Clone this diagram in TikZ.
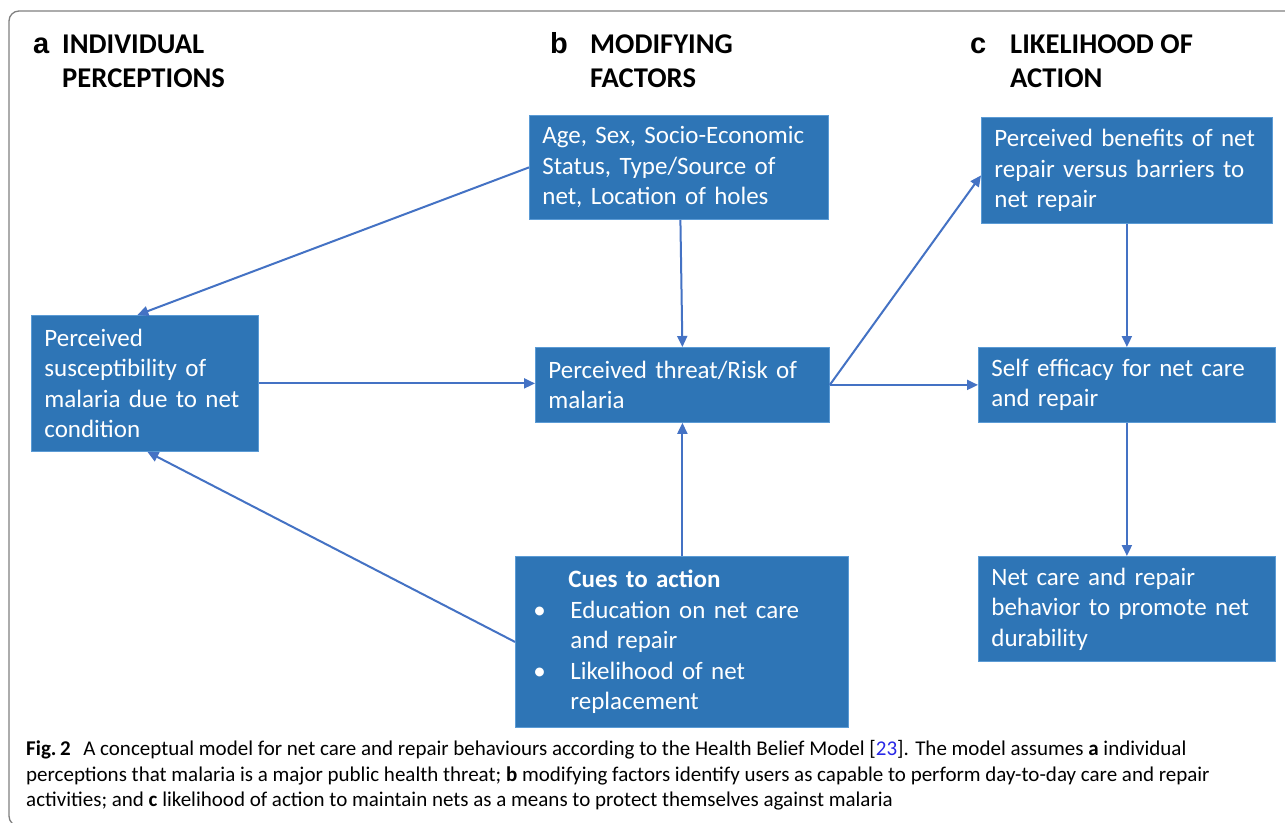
\documentclass[tikz,border=0pt]{standalone}
\usepackage{fontspec}
\setmainfont{Carlito}
\newfontfamily\labelfont{Liberation Sans}
\usetikzlibrary{arrows.meta}
\definecolor{boxblue}{HTML}{2E75B6}
\definecolor{boxedge}{HTML}{5B9BD5}
\definecolor{arrowblue}{HTML}{4472C4}
\definecolor{framegray}{HTML}{808080}
\definecolor{linkblue}{RGB}{40,40,230}
\begin{document}
\begin{tikzpicture}[x=1pt,y=-1pt,
  box/.style={draw=boxedge, line width=0.8pt, fill=boxblue, text=white,
    font=\fontsize{25}{30.5}\selectfont, align=left, inner xsep=13pt, inner ysep=0pt,
    anchor=north west},
  conn/.style={draw=arrowblue, line width=2pt, -{Triangle[length=11pt,width=10pt]}},
  hdr/.style={anchor=base west, font=\fontsize{28.6}{34}\selectfont\bfseries, inner sep=0pt},
  tag/.style={anchor=base west, font=\labelfont\bfseries\fontsize{29}{34}\selectfont, inner sep=0pt},
  captxt/.style={anchor=base west, font=\fontsize{21}{26}\selectfont, inner sep=0pt}
]
\useasboundingbox (0,0) rectangle (1285,822);
\fill[white] (0,0) rectangle (1285,822);
\draw[framegray, line width=1.3pt, rounded corners=10pt] (9,11) rectangle (1300,826);

% headers
\node[tag] (la) at (33,53) {a};
\node[hdr] (ha1) at (62,53) {INDIVIDUAL};
\node[hdr] (ha2) at (62,87) {PERCEPTIONS};
\node[tag] (lb) at (550,53) {b};
\node[hdr] (hb1) at (590,53) {MODIFYING};
\node[hdr] (hb2) at (590,87) {FACTORS};
\node[tag] (lc) at (970,53) {c};
\node[hdr] (hc1) at (1010,53) {LIKELIHOOD OF};
\node[hdr] (hc2) at (1010,87) {ACTION};

% boxes
\node[box, minimum width=227pt, minimum height=136pt, text width=201pt] (susc) at (31,315)
  {Perceived\\susceptibility of\\malaria due to net\\condition};
\node[box, minimum width=299pt, minimum height=104pt, text width=273pt] (age) at (529,115)
  {Age, Sex, Socio-Economic\\Status, Type/Source of\\net, Location of holes};
\node[box, minimum width=294pt, minimum height=75pt, text width=268pt] (threat) at (535,347)
  {Perceived threat/Risk of\\malaria};
\node[box, minimum width=333pt, minimum height=171pt, text width=297pt, inner xsep=18pt] (cues) at (515,556)
  {\hspace*{35pt}\textbf{Cues to action}\\
   \makebox[37pt][l]{•}Education on net care\\
   \hspace*{37pt}and repair\\
   \makebox[37pt][l]{•}Likelihood of net\\
   \hspace*{37pt}replacement};
\node[box, minimum width=291pt, minimum height=106pt, text width=265pt] (benef) at (981,117)
  {Perceived benefits of net\\repair versus barriers to\\net repair};
\node[box, minimum width=297pt, minimum height=75pt, text width=271pt] (selfeff) at (978,347)
  {Self efficacy for net care\\and repair};
\node[box, minimum width=297pt, minimum height=105pt, text width=271pt] (netcare) at (978,556)
  {Net care and repair\\behavior to promote net\\durability};

% connectors
\draw[conn] (age.west) -- ([xshift=-7.5pt]susc.north);
\draw[conn] ([xshift=1.5pt]age.south) -- (threat.north);
\draw[conn] (susc.east) -- (susc.east -| threat.west);
\draw[conn] (cues.west) -- ([xshift=2.5pt]susc.south);
\draw[conn] (cues.north -| threat.south) -- (threat.south);
\draw[conn] (threat.east) -- ([yshift=-5pt]benef.west);
\draw[conn] (threat.east) -- (threat.east -| selfeff.west);
\draw[conn] (benef.south) -- (benef.south |- selfeff.north);
\draw[conn] (selfeff.south) -- (selfeff.south |- netcare.north);

% caption
\node[captxt] (cap1) at (26,755) {\textbf{Fig.\,2}\hspace{0.6em}A conceptual model for net care and repair behaviours according to the Health Belief Model [\textcolor{linkblue}{23}]. The model assumes \textbf{a} individual};
\node[captxt] (cap2) at (26,781) {perceptions that malaria is a major public health threat; \textbf{b} modifying factors identify users as capable to perform day-to-day care and repair};
\node[captxt] (cap3) at (26,806) {activities; and \textbf{c} likelihood of action to maintain nets as a means to protect themselves against malaria};
\end{tikzpicture}
\end{document}
